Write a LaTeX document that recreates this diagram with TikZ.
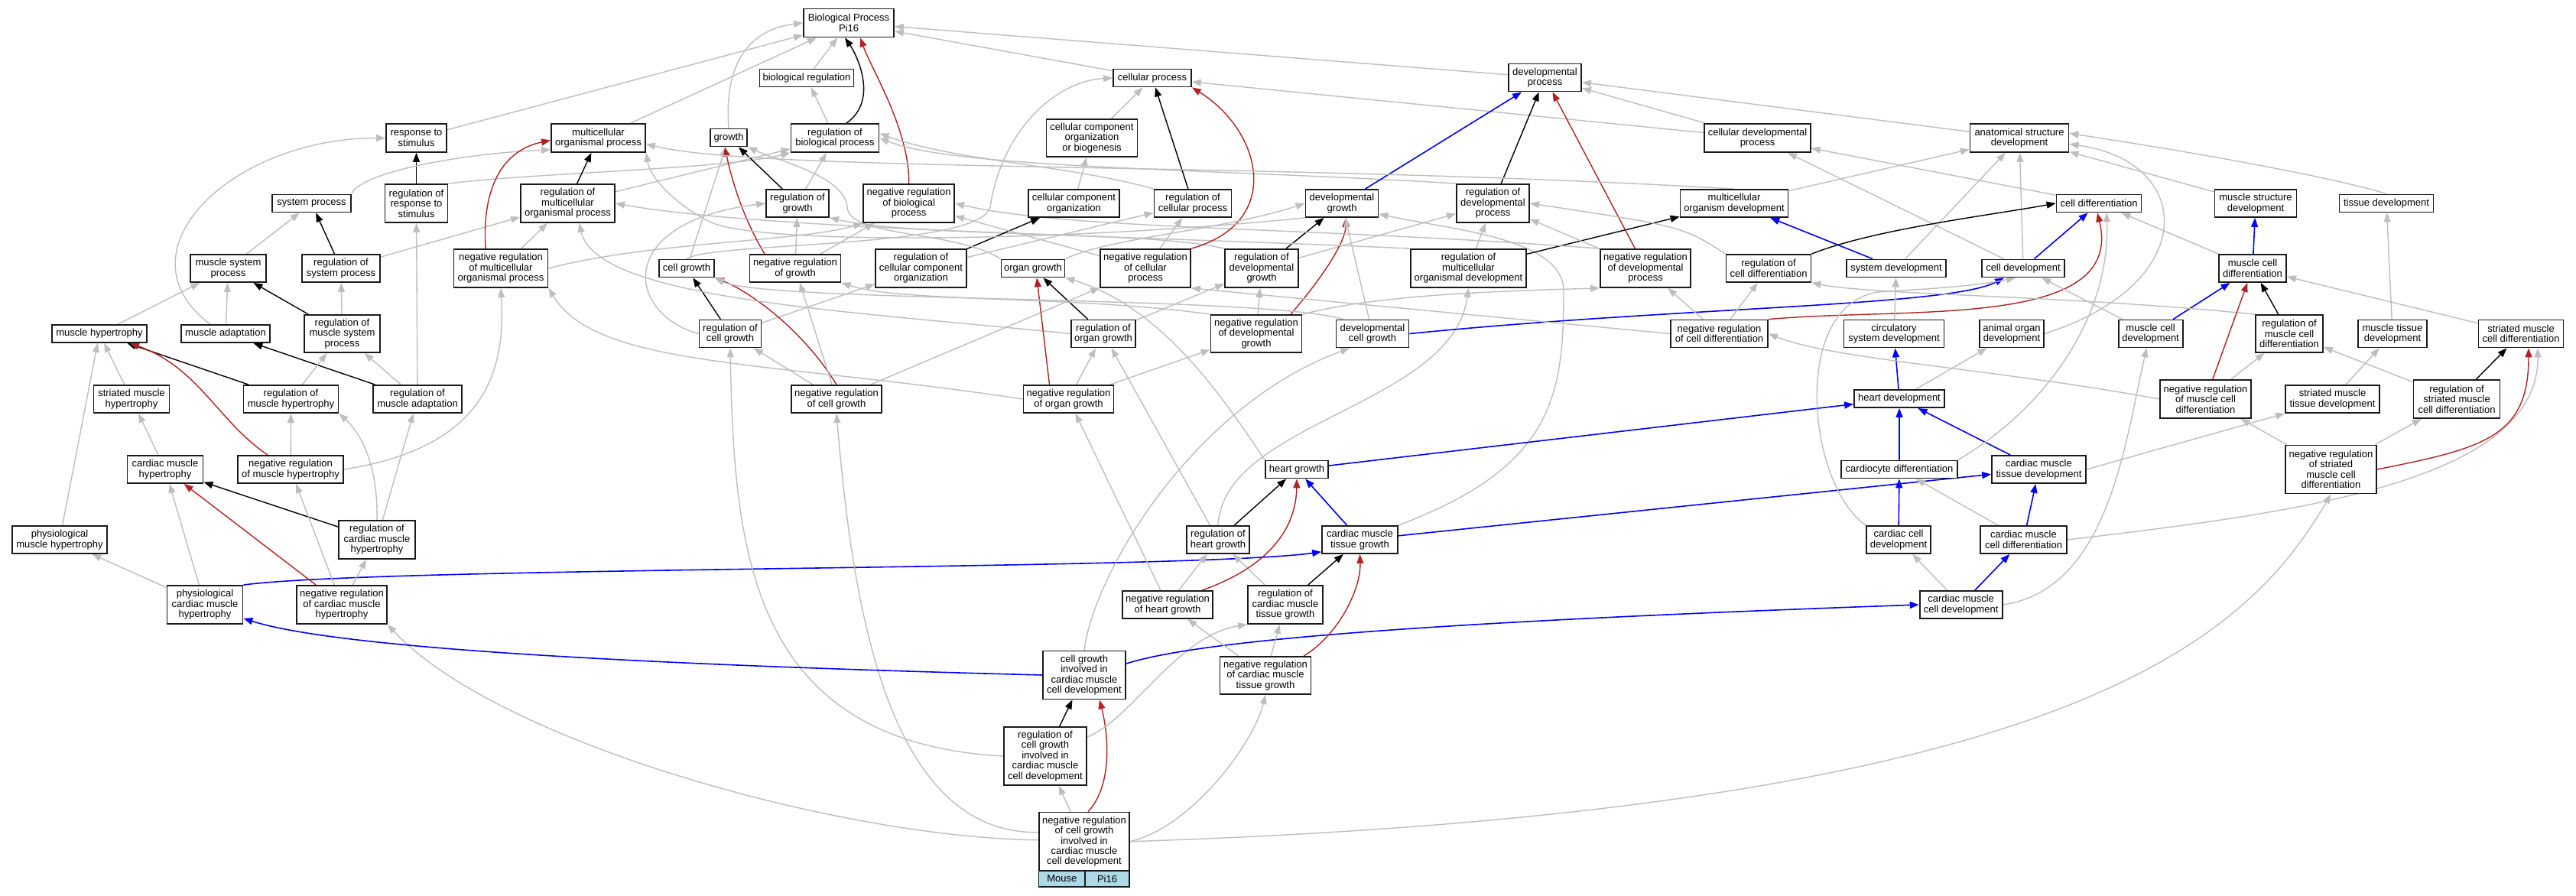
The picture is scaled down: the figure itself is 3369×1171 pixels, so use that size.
\documentclass[tikz,border=0pt]{standalone}
\usepackage{fontspec}
\setmainfont{Liberation Sans}
\usetikzlibrary{arrows.meta,calc}
\pgfdeclarelayer{bg}
\pgfsetlayers{bg,main}
\definecolor{egray}{HTML}{BEBEBE}
\definecolor{ered}{HTML}{B22222}
\definecolor{eblue}{HTML}{0000FF}
\definecolor{legblue}{HTML}{ADD8E6}
\definecolor{bordc}{HTML}{1A1A1A}
\tikzset{
  gonode/.style={draw=bordc, line width=1.8pt, fill=white, rectangle, inner sep=0pt, align=center, font=\fontsize{13}{13.4}\selectfont},
  leg/.style={gonode, fill=legblue},
  etip/.style={-{Triangle[length=12pt,width=9pt]}},
  ge/.style={draw=egray, line width=1.4pt, etip},
  gb/.style={draw=black, line width=1.4pt, etip},
  gr/.style={draw=ered, line width=1.4pt, etip},
  gu/.style={draw=eblue, line width=1.6pt, etip},
}
\newcommand{\mkgo}[6]{\node[gonode,minimum width=#4pt,minimum height=#5pt] (#1) at (#2,#3) {#6};}
\begin{document}
\begin{tikzpicture}[x=1pt,y=1pt]
\useasboundingbox (0,0) rectangle (3369,1171);
\mkgo{BP}{1110}{1141}{118}{37}{Biological Process\\Pi16}
\mkgo{breg}{1055}{1069}{123}{23}{biological regulation}
\mkgo{cellp}{1507}{1069}{102}{23}{cellular process}
\mkgo{devp}{2020.5}{1069.4}{95}{36}{developmental\\process}
\mkgo{resp}{544.5}{990.5}{79}{37}{response to\\stimulus}
\mkgo{mop}{782.5}{990.5}{123}{37}{multicellular\\organismal process}
\mkgo{growth}{953}{991}{48}{23}{growth}
\mkgo{rbp}{1092}{990.5}{115}{37}{regulation of\\biological process}
\mkgo{ccob}{1428}{990.5}{119}{49}{cellular component\\organization\\or biogenesis}
\mkgo{cdp}{2298.5}{990.5}{139}{37}{cellular developmental\\process}
\mkgo{asd}{2641}{990.5}{129}{37}{anatomical structure\\development}
\mkgo{sysp}{407.5}{905}{103}{23}{system process}
\mkgo{rresp}{544.5}{905}{82}{50}{regulation of\\response to\\stimulus}
\mkgo{rmop}{742.5}{905}{123}{50}{regulation of\\multicellular\\organismal process}
\mkgo{rgrowth}{1043}{905}{82}{36}{regulation of\\growth}
\mkgo{nrbp}{1188.6}{905}{119}{50}{negative regulation\\of biological\\process}
\mkgo{cco}{1404.5}{905}{119}{36}{cellular component\\organization}
\mkgo{rcp}{1560}{905}{101}{36}{regulation of\\cellular process}
\mkgo{devg}{1755}{905}{95}{36}{developmental\\growth}
\mkgo{rdp}{1952.5}{905}{95}{50}{regulation of\\developmental\\process}
\mkgo{mod}{2268}{905}{141}{36}{multicellular\\organism development}
\mkgo{celldiff}{2745}{905}{111}{23}{cell differentiation}
\mkgo{msd}{2950}{905}{107}{36}{muscle structure\\development}
\mkgo{tissd}{3121}{905}{123}{23}{tissue development}
\mkgo{msp}{298.5}{820}{99}{36}{muscle system\\process}
\mkgo{rsysp}{446}{820}{102}{36}{regulation of\\system process}
\mkgo{nrmop}{655}{820}{123}{50}{negative regulation\\of multicellular\\organismal process}
\mkgo{cellg}{898}{820}{72}{23}{cell growth}
\mkgo{nrg}{1040}{820}{119}{36}{negative regulation\\of growth}
\mkgo{rcco}{1204.5}{820}{119}{50}{regulation of\\cellular component\\organization}
\mkgo{organg}{1351}{820}{83}{23}{organ growth}
\mkgo{nrcp}{1498}{820}{118}{50}{negative regulation\\of cellular\\process}
\mkgo{rdevg}{1650}{820}{96}{50}{regulation of\\developmental\\growth}
\mkgo{rmod}{1920.5}{820}{151}{50}{regulation of\\multicellular\\organismal development}
\mkgo{nrdp}{2152}{820}{118}{50}{negative regulation\\of developmental\\process}
\mkgo{rcd}{2313}{820}{111}{36}{regulation of\\cell differentiation}
\mkgo{sysd}{2480}{820}{130}{23}{system development}
\mkgo{celldev}{2646}{820}{108}{23}{cell development}
\mkgo{mcd}{2946}{820}{88}{36}{muscle cell\\differentiation}
\mkgo{mh}{130}{734.5}{124}{23}{muscle hypertrophy}
\mkgo{madapt}{295}{734.5}{116}{23}{muscle adaptation}
\mkgo{rmsp}{447.5}{734.5}{99}{49}{regulation of\\muscle system\\process}
\mkgo{rcg}{955}{734.5}{81}{36}{regulation of\\cell growth}
\mkgo{rog}{1443}{734.5}{84}{36}{regulation of\\organ growth}
\mkgo{nrdevg}{1643}{734.5}{119}{49}{negative regulation\\of developmental\\growth}
\mkgo{devcg}{1795}{734.5}{95}{36}{developmental\\cell growth}
\mkgo{nrcd}{2248.5}{734.5}{127}{36}{negative regulation\\of cell differentiation}
\mkgo{csd}{2477}{734.5}{131}{36}{circulatory\\system development}
\mkgo{aod}{2631}{734.5}{84}{36}{animal organ\\development}
\mkgo{mcdev}{2812.6}{734.5}{84}{36}{muscle cell\\development}
\mkgo{rmcd}{2994}{734.5}{88}{49}{regulation of\\muscle cell\\differentiation}
\mkgo{mtd}{3129}{734.5}{90}{36}{muscle tissue\\development}
\mkgo{smcd}{3297}{734.5}{111}{36}{striated muscle\\cell differentiation}
\mkgo{smh}{172}{649}{99}{36}{striated muscle\\hypertrophy}
\mkgo{rmh}{380.5}{649}{124}{36}{regulation of\\muscle hypertrophy}
\mkgo{rmadapt}{546}{649}{116}{36}{regulation of\\muscle adaptation}
\mkgo{nrcg}{1094}{649}{118}{36}{negative regulation\\of cell growth}
\mkgo{nrog}{1397.5}{649}{118}{36}{negative regulation\\of organ growth}
\mkgo{heartdev}{2484}{649.4}{118}{23}{heart development}
\mkgo{nrmcd}{2884.5}{649}{119}{50}{negative regulation\\of muscle cell\\differentiation}
\mkgo{smtd}{3050.5}{649}{123}{36}{striated muscle\\tissue development}
\mkgo{rsmcd}{3213}{649}{113}{50}{regulation of\\striated muscle\\cell differentiation}
\mkgo{cmh}{216}{557}{99}{36}{cardiac muscle\\hypertrophy}
\mkgo{nrmh}{380}{557}{138}{36}{negative regulation\\of muscle hypertrophy}
\mkgo{heartg}{1696}{557}{82}{23}{heart growth}
\mkgo{cardiodiff}{2484}{557}{152}{23}{cardiocyte differentiation}
\mkgo{cmtd}{2666.5}{557}{123}{36}{cardiac muscle\\tissue development}
\mkgo{nrsmcd}{3048.5}{557}{119}{63}{negative regulation\\of striated\\muscle cell\\differentiation}
\mkgo{pmh}{78}{465}{124}{36}{physiological\\muscle hypertrophy}
\mkgo{rcmh}{493}{465}{100}{50}{regulation of\\cardiac muscle\\hypertrophy}
\mkgo{rhg}{1593}{465}{82}{36}{regulation of\\heart growth}
\mkgo{cmtg}{1778.5}{465}{99}{36}{cardiac muscle\\tissue growth}
\mkgo{ccd}{2483}{465}{84}{36}{cardiac cell\\development}
\mkgo{cmcd}{2646.5}{465}{113}{36}{cardiac muscle\\cell differentiation}
\mkgo{pcmh}{268}{380}{99}{50}{physiological\\cardiac muscle\\hypertrophy}
\mkgo{nrcmh}{447}{380}{118}{50}{negative regulation\\of cardiac muscle\\hypertrophy}
\mkgo{nrhg}{1527}{380}{118}{36}{negative regulation\\of heart growth}
\mkgo{rcmtg}{1681}{380}{98}{50}{regulation of\\cardiac muscle\\tissue growth}
\mkgo{cmcdev}{2564.6}{380}{108}{36}{cardiac muscle\\cell development}
\mkgo{cgcm}{1418}{288}{108}{63}{cell growth\\involved in\\cardiac muscle\\cell development}
\mkgo{nrcmtg}{1655}{287.5}{119}{49}{negative regulation\\of cardiac muscle\\tissue growth}
\mkgo{rcgcm}{1367}{182}{108}{76}{regulation of\\cell growth\\involved in\\cardiac muscle\\cell development}
\mkgo{query}{1418}{70.25}{118.5}{76.5}{negative regulation\\of cell growth\\involved in\\cardiac muscle\\cell development}
\node[leg,minimum width=60.5pt,minimum height=21pt] (mouse) at (1388.75,21.5) {Mouse};
\node[leg,minimum width=58pt,minimum height=21pt] (pi16) at (1448,21.5) {Pi16};

\begin{pgfonlayer}{bg}
\fill[white] (0,0) rectangle (3369,1171);
% ---- top region
\draw[ge] (breg) -- (BP);
\draw[ge] (resp) -- (BP);
\draw[ge] (mop) -- (BP);
\draw[ge] (growth.north) .. controls (945,1110) and (1000,1135) .. (BP.west);
\draw[ge] (cellp) -- (BP);
\draw[ge] (devp) -- (BP);
\draw[gb] ($(rbp.north)+(15,0)$) .. controls (1150,1040) and (1120,1100) .. ($(BP.south)+(-5,0)$);
\draw[gr] (nrbp.north) .. controls (1190,1000) and (1140,1080) .. ($(BP.south)+(15,0)$);
\draw[ge] (rbp) -- (breg);
\draw[ge] (ccob) -- (cellp);
\draw[ge] (cdp) -- (cellp);
\draw[ge] (cdp) -- (devp);
\draw[ge] (asd) -- (devp);
% ---- left region
\draw[gb] (rresp) -- (resp);
\draw[ge] (rresp.north east) .. controls (700,945) and (950,950) .. (rbp.south west);
\draw[gb] (rmop) -- (mop);
\draw[ge] (rmop) -- (rbp);
\draw[ge] (sysp.north east) .. controls (470,945) and (600,970) .. ($(mop.south west)+(0,4)$);
\draw[ge] (msp) -- (sysp);
\draw[gb] (rsysp) -- (sysp);
\draw[ge] (rsysp) -- (rmop);
\draw[gr] ($(nrmop.north)+(-20,0)$) .. controls (630,930) and (660,975) .. ($(mop.west)+(0,-3)$);
\draw[ge] (nrmop) -- (rmop);
\draw[ge] (nrmop.east) .. controls (850,855) and (1050,855) .. (nrbp.south west);
\draw[ge] (mh) -- (msp);
\draw[ge] (madapt) -- (msp);
\draw[ge] ($(madapt.north)+(-20,0)$) .. controls (150,840) and (300,990) .. (resp.west);
\draw[gb] (rmsp) -- (msp);
\draw[ge] (rmsp) -- (rsysp);
\draw[ge] (smh) -- (mh);
\draw[gb] (rmh) -- (mh);
\draw[gr] ($(nrmh.north)+(-30,0)$) .. controls (285,620) and (260,690) .. ($(mh.south)+(40,0)$);
\draw[ge] (nrmh) -- (rmh);
\draw[ge] (nrmh.east) .. controls (630,585) and (662,680) .. (nrmop.south);
\draw[ge] (pmh) -- (mh);
\draw[gb] (rmadapt) -- (madapt);
\draw[ge] (rmadapt) -- (rmsp);
\draw[ge] (rmadapt) -- (rresp);
\draw[ge] (rmh) -- (rmsp);
\draw[ge] (cmh) -- (smh);
\draw[gb] (rcmh) -- (cmh);
\draw[ge] (rcmh.north) .. controls (495,580) and (460,615) .. (rmh.south east);
\draw[ge] (rcmh) -- (rmadapt);
\draw[ge] (pcmh) -- (pmh);
\draw[ge] (pcmh) -- (cmh);
\draw[gu] (pcmh.north east) .. controls (500,430) and (1550,425) .. ($(cmtg.south west)+(0,3)$);
\draw[gr] (nrcmh) -- (cmh);
\draw[ge] (nrcmh) -- (nrmh);
\draw[ge] (nrcmh) -- (rcmh);
% ---- middle region
\draw[ge] (cellg) -- (growth);
\draw[gb] (rgrowth) -- (growth);
\draw[ge] (rgrowth) -- (rbp);
\draw[gr] ($(nrg.north)+(-40,0)$) .. controls (975,880) and (958,930) .. ($(growth.south)+(-5,0)$);
\draw[ge] (nrg) -- (rgrowth);
\draw[ge] (nrg) -- (nrbp);
\draw[gb] (rcg) -- (cellg);
\draw[ge] (rcg.west) .. controls (820,760) and (800,880) .. (rgrowth.west);
\draw[ge] (rcg) -- (rcco);
\draw[gr] (nrcg.north) .. controls (1050,740) and (980,790) .. (cellg.south east);
\draw[ge] (nrcg) -- (rcg);
\draw[ge] (nrcg) -- (nrg);
\draw[ge] (nrcg) -- (nrcp);
\draw[ge] ($(query.west)+(0,12)$) .. controls (1160,80) and (1115,380) .. (nrcg.south);
\draw[ge] (rcgcm.west) .. controls (980,200) and (960,450) .. (rcg.south);
\draw[ge] ($(query.west)+(0,2)$) .. controls (1100,75) and (650,200) .. (nrcmh.south east);
\draw[gr] ($(query.north)+(5,0)$) .. controls (1452,140) and (1452,200) .. ($(cgcm.south)+(20,0)$);
\draw[ge] (query) -- (rcgcm);
\draw[ge] (query.east) .. controls (1560,90) and (1640,200) .. (nrcmtg.south);
\draw[ge] (query.east) .. controls (2700,110) and (2935,330) .. (nrsmcd.south);
\draw[gb] (rcgcm) -- (cgcm);
\draw[ge] ($(rcgcm.east)+(0,25)$) .. controls (1480,230) and (1540,340) .. (rcmtg.south west);
\draw[gu] (cgcm.west) .. controls (900,300) and (450,320) .. ($(pcmh.south east)+(0,8)$);
\draw[gu] ($(cgcm.east)+(0,15)$) .. controls (1560,330) and (1800,355) .. (cmcdev.west);
\draw[ge] (cgcm.north) .. controls (1430,420) and (1560,640) .. ($(devcg.south)+(-30,0)$);
\draw[ge] (nrcmtg) -- (rcmtg);
\draw[gr] ($(nrcmtg.north)+(50,0)$) .. controls (1750,340) and (1780,400) .. (cmtg.south);
\draw[ge] (nrcmtg) -- (nrhg);
\draw[gb] (rcmtg) -- (cmtg);
\draw[ge] (rcmtg) -- (rhg);
\draw[ge] (nrhg) -- (rhg);
\draw[gr] ($(nrhg.north)+(45,0)$) .. controls (1660,430) and (1695,480) .. (heartg.south);
\draw[ge] (nrhg) -- (nrog);
\draw[gb] (rhg) -- (heartg);
\draw[ge] (rhg) -- (rog);
\draw[ge] (rhg.north) .. controls (1600,620) and (1900,640) .. (rmod.south);
\draw[gu] (cmtg) -- (heartg);
\draw[gu] (cmtg) -- (cmtd);
\draw[ge] (cmtg.north east) .. controls (2030,560) and (2045,650) .. (2045,790) .. controls (2045,860) and (1900,870) .. ($(devg.south east)+(0,5)$);
\draw[gu] (heartg) -- (heartdev);
\draw[ge] (heartg.north west) .. controls (1600,650) and (1520,770) .. (organg.south east);
\draw[gb] (rog) -- (organg);
\draw[ge] (rog) -- (rdevg);
\draw[ge] (rog.west) .. controls (1100,765) and (780,780) .. ($(rmop.south)+(15,0)$);
\draw[gr] ($(nrog.north)+(-25,0)$) -- ($(organg.south)+(5,0)$);
\draw[ge] (nrog) -- (rog);
\draw[ge] (nrog) -- (nrdevg);
\draw[ge] (nrog.west) .. controls (1000,700) and (780,690) .. (nrmop.south east);
\draw[gb] (rdevg) -- (devg);
\draw[ge] (rdevg) -- (rdp);
\draw[ge] (rdevg.north west) .. controls (1500,870) and (1200,860) .. (rgrowth.south east);
\draw[gr] ($(nrdevg.north)+(45,0)$) .. controls (1740,820) and (1760,860) .. ($(devg.south)+(5,0)$);
\draw[ge] (nrdevg) -- (rdevg);
\draw[ge] (nrdevg.north west) .. controls (1400,785) and (1180,775) .. (nrg.south east);
\draw[ge] (nrdevg.north east) .. controls (1800,785) and (1950,790) .. (nrdp.south west);
\draw[ge] (devcg) -- (devg);
\draw[gu] (devcg.east) .. controls (2200,770) and (2550,770) .. ($(celldev.south)+(-25,0)$);
\draw[ge] ($(devcg.north west)+(10,0)$) .. controls (1650,785) and (1000,775) .. (cellg.south east);
\draw[gb] (rmod) -- (mod);
\draw[ge] (rmod) -- (rdp);
\draw[ge] (rmod.north west) .. controls (1500,862) and (1000,870) .. (rmop.east);
\draw[gr] (nrdp) -- (devp);
\draw[ge] (nrdp) -- (rdp);
\draw[ge] (nrdp.north west) .. controls (1700,875) and (1400,870) .. (nrbp.east);
\draw[gb] (rdp) -- (devp);
\draw[ge] (rdp.north west) .. controls (1600,950) and (1250,950) .. (rbp.east);
\draw[ge] (rcp.north west) .. controls (1400,955) and (1250,960) .. ($(rbp.east)+(0,6)$);
\draw[gb] (rcp) -- (cellp);
\draw[ge] (rcco) -- (rcp);
\draw[gb] (rcco) -- (cco);
\draw[ge] (cco) -- (ccob);
\draw[gr] (nrcp.north east) .. controls (1680,880) and (1650,1000) .. (cellp.south east);
\draw[ge] (nrcp) -- (rcp);
\draw[ge] (nrcp) -- (nrbp);
\draw[ge] (cellg.north) .. controls (930,855) and (1280,845) .. (1295,900) .. controls (1310,1000) and (1380,1065) .. (cellp.west);
\draw[ge] (organg.north west) .. controls (1250,870) and (1110,860) .. (1108,900) .. controls (1105,940) and (1020,960) .. (growth.south east);
\draw[ge] (organg.north east) .. controls (1450,860) and (1600,870) .. (devg.west);
\draw[ge] (devg.south west) .. controls (1400,855) and (1000,850) .. (930,880) .. controls (880,905) and (850,940) .. (mop.south east);
\draw[gu] (devg) -- (devp);
% ---- right region
\draw[gu] (sysd) -- (mod);
\draw[ge] (sysd) -- (asd);
\draw[ge] (mod) -- (asd);
\draw[ge] (mod.north) .. controls (1650,960) and (1000,945) .. ($(mop.east)+(0,-8)$);
\draw[ge] (celldev) -- (cdp);
\draw[ge] (celldev) -- (asd);
\draw[gu] (celldev) -- (celldiff);
\draw[ge] (celldiff) -- (cdp);
\draw[gb] (rcd.north east) .. controls (2450,871) and (2600,889) .. (celldiff.west);
\draw[ge] (rcd.north west) .. controls (2200,875) .. (rdp.east);
\draw[ge] (nrcd) -- (rcd);
\draw[ge] (nrcd) -- (nrdp);
\draw[gr] (nrcd.north east) .. controls (2500,770) and (2780,740) .. ($(celldiff.south)+(-2,0)$);
\draw[ge] (nrcd.west) -- (nrcp.south east);
\draw[gu] (heartdev) -- (csd);
\draw[ge] (heartdev) -- (aod);
\draw[ge] (csd) -- (sysd);
\draw[ge] (aod.east) .. controls (2880,800) and (2870,960) .. ($(asd.east)+(0,-8)$);
\draw[ge] (msd) -- (asd);
\draw[ge] (tissd.north) .. controls (3050,940) and (2850,975) .. ($(asd.east)+(0,6)$);
\draw[gu] (mcd) -- (msd);
\draw[ge] (mcd) -- (celldiff);
\draw[gu] (mcdev) -- (mcd);
\draw[ge] (mcdev) -- (celldev);
\draw[gb] (rmcd) -- (mcd);
\draw[ge] (rmcd.north west) .. controls (2700,785) and (2450,785) .. (rcd.south east);
\draw[ge] (smcd) -- (mcd);
\draw[ge] (mtd) -- (tissd);
\draw[ge] (smtd) -- (mtd);
\draw[gr] (nrmcd) -- (mcd);
\draw[ge] (nrmcd) -- (rmcd);
\draw[ge] (nrmcd.west) .. controls (2600,690) and (2400,700) .. (nrcd.east);
\draw[gb] (rsmcd) -- (smcd);
\draw[ge] (rsmcd) -- (rmcd);
\draw[gr] (nrsmcd.east) .. controls (3250,585) and (3307,600) .. ($(smcd.south)+(10,0)$);
\draw[ge] (nrsmcd) -- (rsmcd);
\draw[ge] (nrsmcd) -- (nrmcd);
\draw[ge] (cmtd.east) -- (smtd.south west);
\draw[gu] (cmtd) -- (heartdev);
\draw[gu] (cardiodiff) -- (heartdev);
\draw[ge] (cardiodiff.north east) .. controls (2680,640) and (2760,760) .. ($(celldiff.south)+(10,0)$);
\draw[gu] (ccd) -- (cardiodiff);
\draw[ge] (ccd.north west) .. controls (2360,540) and (2340,790) .. (2470,790) .. controls (2560,795) and (2600,800) .. ($(celldev.south)+(-10,0)$);
\draw[gu] (cmcdev) -- (cmcd);
\draw[ge] (cmcdev) -- (ccd);
\draw[ge] (cmcdev.east) .. controls (2760,400) and (2780,600) .. ($(mcdev.south)+(-5,0)$);
\draw[gu] (cmcd) -- (cmtd);
\draw[ge] (cmcd) -- (cardiodiff);
\draw[ge] (cmcd.east) .. controls (3000,500) and (3320,540) .. ($(smcd.south)+(22,0)$);
\end{pgfonlayer}
\end{tikzpicture}
\end{document}
